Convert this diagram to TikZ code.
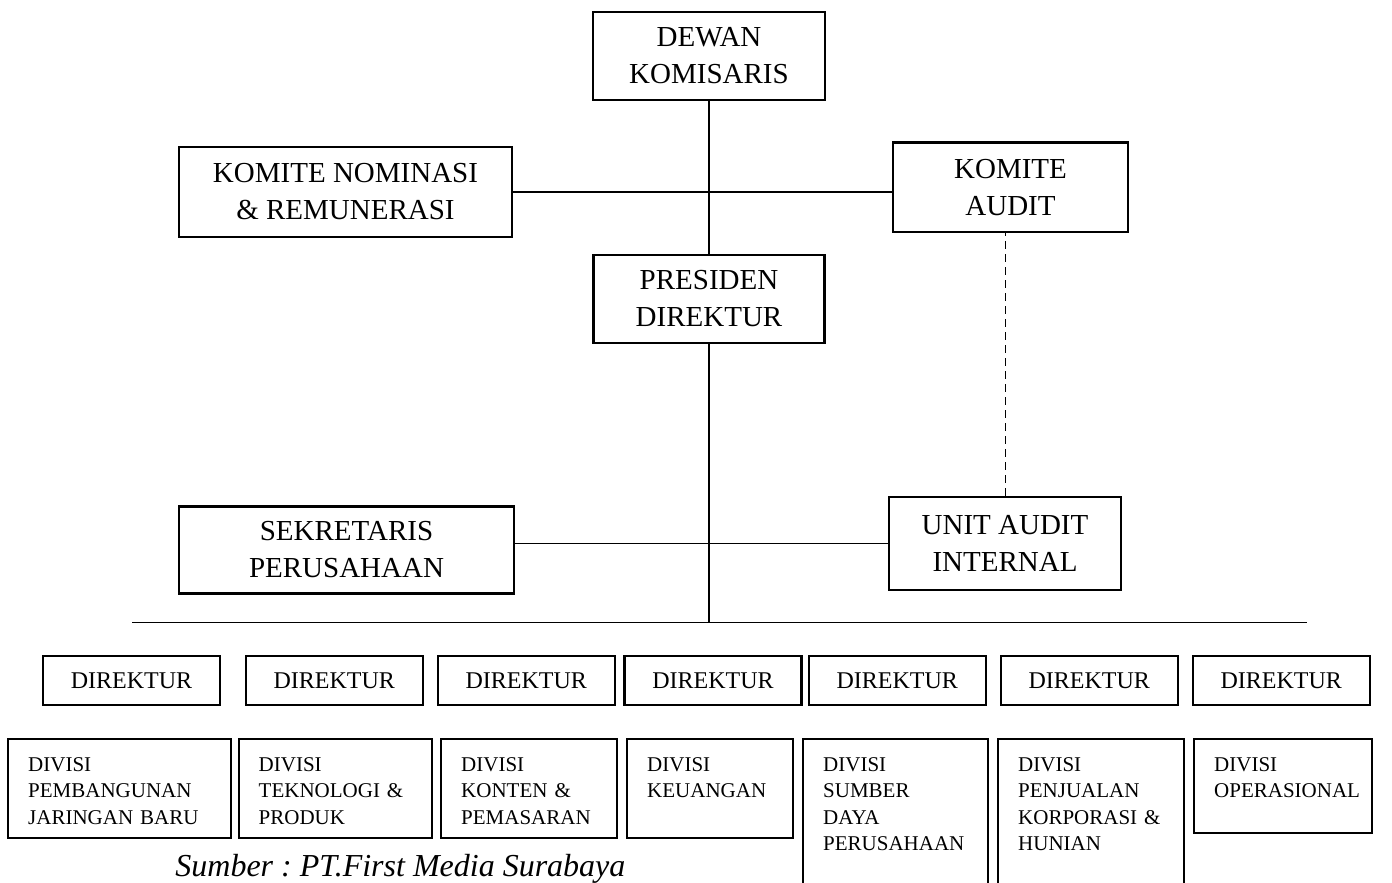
\documentclass[tikz,border=0pt]{standalone}
\usepackage{fontspec}
\setmainfont{Liberation Serif}
\frenchspacing
\def \BoxLine {1.2pt}
\def \DivTop {738}
\tikzstyle{jabatan}=[
  draw=black,
  line width=\BoxLine,
  align=center,
  font=\fontsize{14.5}{18.5}\selectfont
]
\tikzstyle{direktur}=[
  draw=black,
  line width=\BoxLine,
  minimum width=88.5pt,
  minimum height=24.5pt,
  font=\fontsize{12}{14}\selectfont
]
\tikzstyle{divisi}=[
  draw=black,
  line width=\BoxLine,
  anchor=north west,
  align=left,
  inner xsep=10pt,
  inner ysep=0pt,
  text height=16pt,
  font=\fontsize{10.5}{13.2}\selectfont
]
\tikzstyle{garis}=[line width=0.6pt]

\begin{document}
\begin{tikzpicture}[x=0.5pt,y=-0.5pt]
          \useasboundingbox (0,0) rectangle (1392,883);

          % pimpinan
          \node[jabatan, minimum width=116pt, minimum height=44pt] (dk) at (709,56) {DEWAN\\KOMISARIS};
          \node[jabatan, minimum width=166.5pt, minimum height=45pt] (knr) at (345.5,192) {KOMITE NOMINASI\\\& REMUNERASI};
          \node[jabatan, minimum width=117.5pt, minimum height=44.5pt] (ka) at (1010.5,187.2) {KOMITE\\AUDIT};
          \node[jabatan, minimum width=115.5pt, minimum height=44pt] (pd) at (709,299) {PRESIDEN\\DIREKTUR};
          \node[jabatan, minimum width=167.5pt, minimum height=43.5pt] (sp) at (346.5,550) {SEKRETARIS\\PERUSAHAAN};
          \node[jabatan, minimum width=116pt, minimum height=46.5pt] (uai) at (1005,543.5) {UNIT AUDIT\\INTERNAL};

          \coordinate (busL) at (132,622.5);
          \coordinate (busR) at (1306.5,622.5);

          \draw[garis] (dk.south) -- (dk.south |- pd.north);
          \draw[garis] (knr.east) -- (knr.east -| ka.west);
          \draw[garis] (pd.south) -- (pd.south |- busL);
          \draw[garis] (uai.west) -- (uai.west -| sp.east);
          \draw[line width=0.5pt, dash pattern=on 4pt off 2.5pt] (uai.north) -- (uai.north |- ka.south);
          \draw[line width=0.9pt] (busL) -- (busR);

          % direktur
          \foreach \cx [count=\i] in {131.5,334.3,526.3,713,897.3,1089.3,1281.3}{
            \node[direktur] (dir\i) at (\cx,680.5) {DIREKTUR};
          }

          % divisi
          \node[divisi, text width=91.5pt, text depth=33.5pt] (div1) at (7,\DivTop) {DIVISI\\PEMBANGUNAN\\JARINGAN BARU};
          \node[divisi, text width=76.75pt, text depth=33.5pt] (div2) at (237.5,\DivTop) {DIVISI\\TEKNOLOGI \&\\PRODUK};
          \node[divisi, text width=68pt, text depth=33.5pt] (div3) at (440,\DivTop) {DIVISI\\KONTEN \&\\PEMASARAN};
          \node[divisi, text width=63pt, text depth=33.5pt] (div4) at (626,\DivTop) {DIVISI\\KEUANGAN};
          \node[divisi, text width=72.5pt, text depth=65pt] (div5) at (802,\DivTop) {DIVISI\\SUMBER\\DAYA\\PERUSAHAAN};
          \node[divisi, text width=73pt, text depth=65pt] (div6) at (997,\DivTop) {DIVISI\\PENJUALAN\\KORPORASI \&\\HUNIAN};
          \node[divisi, text width=69pt, text depth=31pt] (div7) at (1193,\DivTop) {DIVISI\\OPERASIONAL};

          \node[anchor=base west, inner sep=0pt, font=\fontsize{16}{19}\selectfont\itshape] (sumber) at (175,876) {Sumber : PT.First Media Surabaya};
        \end{tikzpicture}
\end{document}
